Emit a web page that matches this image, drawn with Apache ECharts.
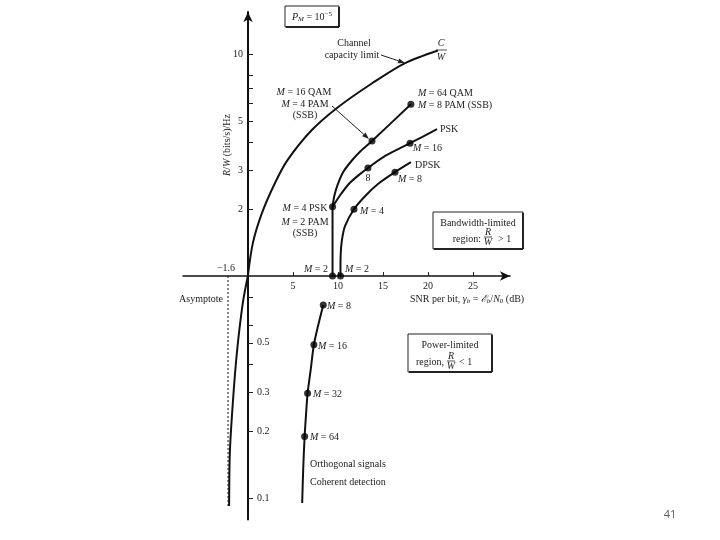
<!DOCTYPE html>
<html lang="en">
<head>
<meta charset="UTF-8">
<script src="https://cdn.jsdelivr.net/npm/echarts@6/dist/echarts.min.js"></script>
<title>Bandwidth efficiency plane</title>
<style>
    body { margin: 0; background: #fff; }
    #main { width: 720px; height: 540px; }
</style>
</head>
<body>
<div id="main"></div>
<script>
    // values: [Eb/N0 in dB, R/W]
    let capHigh = [[0, 1], [0.56, 1.41], [1.56, 1.92], [3.0, 2.62], [4.4, 3.33], [7.1, 4.55], [10.0, 5.77], [13.8, 7.4], [17.4, 9.1], [21.1, 10.4]];
    let capLow = [[0, 1], [-0.56, 0.756], [-1.22, 0.45], [-1.67, 0.268], [-2.0, 0.16], [-2.08, 0.092]];
    let asymptote = [[-2.2, 1], [-2.2, 0.09]];
    let qamVert = [[9.4, 1], [9.4, 2.05]];
    let qam = [[9.4, 2.05], [9.6, 2.3], [10.0, 2.6], [10.6, 2.95], [11.5, 3.3], [12.5, 3.65], [13.78, 4.06], [18.1, 5.95]];
    let psk = [[9.4, 2.05], [10.2, 2.3], [11.2, 2.6], [12.3, 2.85], [13.33, 3.07], [15.2, 3.47], [18.0, 3.97], [21.0, 4.59]];
    let dpsk = [[10.28, 1], [10.3, 1.24], [10.44, 1.45], [10.78, 1.68], [11.78, 2.0], [13.0, 2.29], [14.44, 2.6], [16.33, 2.94], [18.1, 3.26]];
    let ortho = [[8.37, 0.74], [7.81, 0.60], [7.33, 0.49], [6.97, 0.377], [6.63, 0.296], [6.44, 0.232], [6.3, 0.189], [6.14, 0.134], [6.03, 0.095]];
    let dotsHigh = [[9.4, 1], [10.28, 1], [9.4, 2.05], [13.78, 4.06], [18.1, 5.95], [13.33, 3.07], [18.0, 3.97], [11.78, 2.0], [16.33, 2.94]];
    let dotsLow = [[8.37, 0.74], [7.33, 0.49], [6.63, 0.296], [6.3, 0.189]];

    let xTicks = [5, 10, 15, 20, 25];
    let yTicksHigh = [2, 3, 4, 5, 6, 7, 8, 10];
    let yLabelsHigh = [2, 3, 5, 10];
    let yTicksLow = [0.1, 0.2, 0.3, 0.4, 0.5, 0.6, 0.8];
    let yLabelsLow = [0.1, 0.2, 0.3, 0.5];

    const serif = '"Liberation Serif", "DejaVu Serif", serif';
    const ink = '#222';
    const rich = {
        i: { fontStyle: 'italic', fontFamily: serif, fontSize: 10, fill: ink },
        n: { fontFamily: serif, fontSize: 10, fill: ink },
        sub: { fontFamily: serif, fontSize: 7, fill: ink, padding: [5, 0, 0, 0] },
        isub: { fontStyle: 'italic', fontFamily: serif, fontSize: 7, fill: ink, padding: [5, 0, 0, 0] },
        sup: { fontFamily: serif, fontSize: 7, fill: ink, padding: [0, 0, 5, 0] }
    };

    function t(x, y, text, align, size) {
        return {
            type: 'text', x: x, y: y, z: 10,
            style: {
                text: text, fill: ink, font: (size || 10) + 'px ' + serif,
                align: align || 'left', verticalAlign: 'middle',
                textAlign: align || 'left', textVerticalAlign: 'middle', rich: rich
            }
        };
    }
    function seg(x1, y1, x2, y2, w) {
        return { type: 'line', z: 10, shape: { x1: x1, y1: y1, x2: x2, y2: y2 }, style: { stroke: ink, lineWidth: w || 1 } };
    }
    function arrow(x1, y1, x2, y2) {
        let dx = x2 - x1, dy = y2 - y1, len = Math.sqrt(dx * dx + dy * dy);
        dx /= len; dy /= len;
        let bx = x2 - 7 * dx, by = y2 - 7 * dy;
        return [seg(x1, y1, bx, by, 1), {
            type: 'polygon', z: 10,
            shape: { points: [[x2, y2], [bx - 2.5 * dy, by + 2.5 * dx], [bx + 2.5 * dy, by - 2.5 * dx]] },
            style: { fill: ink }
        }];
    }
    function frac(x, y, num, den) {
        return [
            t(x, y - 5, '{i|' + num + '}', 'center', 8),
            seg(x - 4, y, x + 4, y, 0.8),
            t(x, y + 5, '{i|' + den + '}', 'center', 8)
        ];
    }
    function box(x, y, w, h) {
        return [
            { type: 'rect', z: 9, shape: { x: x, y: y, width: w, height: h }, style: { fill: '#fff', stroke: ink, lineWidth: 1 } },
            seg(x + w, y + 1, x + w, y + h, 2),
            seg(x + 1, y + h, x + w, y + h, 2)
        ];
    }

    let myChart = echarts.init(document.getElementById('main'));

    let lineBase = { type: 'line', symbol: 'none', silent: true, lineStyle: { color: '#111', width: 2 } };
    let axisLabelStyle = { color: ink, fontFamily: serif, fontSize: 10 };

    let graphics = [].concat(
        box(285, 6, 54, 21),
        [t(312, 17, '{i|P}{isub|M}{n| = 10}{sup|−5}', 'center')],
        [t(354, 43, 'Channel', 'center'), t(352, 55, 'capacity limit', 'center')],
        arrow(381, 55, 405, 63),
        [t(441, 43, '{i|C}', 'center'), seg(436, 50, 447, 50, 0.8), t(441, 57, '{i|W}', 'center')],
        [t(304, 92, '{i|M} = 16 QAM', 'center'), t(305, 104, '{i|M} = 4 PAM', 'center'), t(305, 115, '(SSB)', 'center')],
        arrow(332, 106, 369, 139),
        [t(418, 93, '{i|M} = 64 QAM'), t(418, 105, '{i|M} = 8 PAM (SSB)')],
        [t(440, 129, 'PSK'), t(413, 148, '{i|M} = 16'), t(415, 165, 'DPSK'), t(368, 178, '8', 'center'), t(398, 179, '{i|M} = 8')],
        [t(305, 208, '{i|M} = 4 PSK', 'center'), t(305, 222, '{i|M} = 2 PAM', 'center'), t(305, 233, '(SSB)', 'center')],
        [t(360, 211, '{i|M} = 4'), t(328, 269, '{i|M} = 2', 'right'), t(345, 269, '{i|M} = 2')],
        [t(226, 268, '−1.6', 'center'), t(201, 299, 'Asymptote', 'center')],
        [t(410, 299, 'SNR per bit, {i|γ}{isub|b} = {i|ℰ}{isub|b}/{i|N}{sub|0} (dB)')],
        box(433, 212, 90, 37),
        [t(478, 223, 'Bandwidth-limited', 'center'), t(481, 239, 'region:', 'right'), t(498, 239, '> 1')],
        frac(488, 237, 'R', 'W'),
        box(408, 334, 84, 38),
        [t(450, 345, 'Power-limited', 'center'), t(444, 362, 'region,', 'right'), t(459, 362, '< 1')],
        frac(451, 361, 'R', 'W'),
        [t(327, 306, '{i|M} = 8'), t(318, 346, '{i|M} = 16'), t(313, 394, '{i|M} = 32'), t(310, 437, '{i|M} = 64')],
        [t(310, 464, 'Orthogonal signals'), t(310, 482, 'Coherent detection')],
        [{
            type: 'text', x: 227, y: 145, rotation: Math.PI / 2, z: 10,
            style: {
                text: '{i|R}/{i|W} (bits/s)/Hz', fill: ink, font: '10px ' + serif, rich: rich,
                align: 'center', verticalAlign: 'middle', textAlign: 'center', textVerticalAlign: 'middle'
            }
        }],
        [{
            type: 'text', x: 670, y: 515, z: 10,
            style: { text: '41', fill: '#595959', font: '11px "Open Sans", sans-serif', align: 'center', verticalAlign: 'middle', textAlign: 'center', textVerticalAlign: 'middle' }
        }]
    );

    // y axis sits at 0 dB: grid left 183, 0 dB is 7.2 dB in at 327/36.3 px per dB
    let yOffset = -Math.round(7.2 * 327 / 36.3);

    let option = {
        backgroundColor: '#fff',
        animation: false,
        grid: [
            { left: 183, width: 327, top: 12, height: 264 },
            { left: 183, width: 327, top: 276, height: 243.5 }
        ],
        xAxis: [{
            gridIndex: 0, type: 'value', min: -7.2, max: 29.1,
            axisLine: { onZero: false, symbol: ['none', 'arrow'], symbolSize: [7, 10], lineStyle: { color: '#111', width: 1.5 } },
            axisTick: { inside: true, length: 4, customValues: xTicks, lineStyle: { color: ink } },
            axisLabel: Object.assign({ margin: 5, customValues: xTicks }, axisLabelStyle),
            splitLine: { show: false }
        }, {
            gridIndex: 1, type: 'value', min: -7.2, max: 29.1, show: false
        }],
        yAxis: [{
            gridIndex: 0, type: 'log', logBase: 10, min: 1, max: 15.5, position: 'left', offset: yOffset,
            axisLine: { show: true, onZero: false, symbol: ['none', 'arrow'], symbolSize: [7, 10], lineStyle: { color: '#111', width: 2 } },
            axisTick: { show: true, inside: true, length: 5, customValues: yTicksHigh, lineStyle: { color: ink } },
            axisLabel: Object.assign({ margin: 5, customValues: yLabelsHigh }, axisLabelStyle),
            splitLine: { show: false }, minorTick: { show: false }
        }, {
            gridIndex: 1, type: 'log', logBase: 10, min: 0.08, max: 1, position: 'left', offset: yOffset,
            axisLine: { show: true, onZero: false, lineStyle: { color: '#111', width: 2 } },
            axisTick: { show: true, inside: true, length: 5, customValues: yTicksLow, lineStyle: { color: ink } },
            axisLabel: Object.assign({ margin: 9, inside: true, customValues: yLabelsLow }, axisLabelStyle),
            splitLine: { show: false }, minorTick: { show: false }
        }],
        series: [
            Object.assign({}, lineBase, { data: capHigh, smooth: 0.3 }),
            Object.assign({}, lineBase, { data: qamVert }),
            Object.assign({}, lineBase, { data: qam, smooth: 0.25 }),
            Object.assign({}, lineBase, { data: psk, smooth: 0.25 }),
            Object.assign({}, lineBase, { data: dpsk, smooth: 0.25 }),
            { type: 'scatter', data: dotsHigh, symbolSize: 7, clip: false, silent: true, itemStyle: { color: '#000' }, z: 5 },
            Object.assign({}, lineBase, { xAxisIndex: 1, yAxisIndex: 1, data: capLow, smooth: 0.3 }),
            Object.assign({}, lineBase, { xAxisIndex: 1, yAxisIndex: 1, data: ortho, smooth: 0.3 }),
            { type: 'line', xAxisIndex: 1, yAxisIndex: 1, data: asymptote, symbol: 'none', silent: true, lineStyle: { color: '#111', width: 1, type: [2, 2] } },
            { type: 'scatter', xAxisIndex: 1, yAxisIndex: 1, data: dotsLow, symbolSize: 7, clip: false, silent: true, itemStyle: { color: '#000' }, z: 5 }
        ],
        graphic: graphics
    };

    myChart.setOption(option);
</script>
</body>
</html>
